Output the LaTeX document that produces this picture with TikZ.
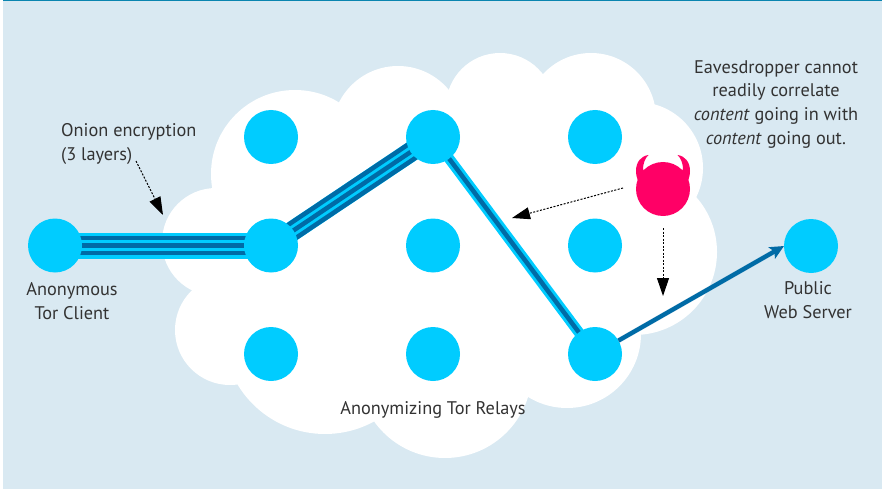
\documentclass[tikz,border=0pt]{standalone}
\usepackage{fontspec}
\setmainfont{PT Sans}
\usetikzlibrary{arrows.meta,calc}
\pgfdeclarelayer{bg}
\pgfdeclarelayer{edges}
\pgfsetlayers{bg,edges,main}
\definecolor{panel}{HTML}{D9E9F2}
\definecolor{rule}{HTML}{0A85B0}
\definecolor{cyanb}{HTML}{00CCFF}
\definecolor{darkb}{HTML}{006BA6}
\definecolor{devilc}{HTML}{FF0066}
\definecolor{txt}{HTML}{333333}
\tikzset{
  torn/.style={circle,fill=cyanb,minimum size=54pt,inner sep=0pt,outer sep=0pt},
  lbl/.style={text=txt,align=center,inner sep=0pt,font=\fontsize{18.3}{23.8}\selectfont},
  lightband/.style={draw=cyanb,line cap=butt},
  darkband/.style={draw=darkb,line width=4.5pt,line cap=butt},
  spy/.style={draw=black,line width=1pt,dash pattern=on 2pt off 1.5pt,-{Triangle[length=18pt,width=12pt,fill=black,sep=0pt]}},
  lobe/.style={fill=white}
}
\begin{document}
\begin{tikzpicture}[x=1pt,y=-1pt]
\useasboundingbox (0,0) rectangle (882,489);
\begin{pgfonlayer}{bg}
\fill[panel] (3,1) rectangle (882,489);
\fill[rule] (3,0) rectangle (882,1.4);
\foreach \cx/\cy/\r in {295/174/84,398/132/66,500/107/54,591/118/65,637/168/66,634/252/83,567/334/74,445/371/87,325/332/102,230/330/55,216/242/54}
  \fill[lobe] (\cx,\cy) circle[radius=\r];
\fill[lobe] (216,242) -- (295,174) -- (398,132) -- (500,107) -- (591,118) -- (637,168) -- (634,252) -- (567,334) -- (445,371) -- (325,332) -- (230,330) -- cycle;
\end{pgfonlayer}

\node[torn] (client) at (55,245.5) {};
\node[torn] (r11) at (271,137) {};
\node[torn] (r12) at (433,137) {};
\node[torn] (r13) at (595,137) {};
\node[torn] (r21) at (271,245.5) {};
\node[torn] (r22) at (433,245.5) {};
\node[torn] (r23) at (595,245.5) {};
\node[torn] (r31) at (271,354) {};
\node[torn] (r32) at (433,354) {};
\node[torn] (r33) at (595,354) {};
\node[torn] (server) at (811,246) {};

\begin{pgfonlayer}{edges}
\draw[lightband,line width=26pt] (client.center) -- (r21.center);
\draw[darkband] (client.center) -- (r21.center);
\draw[darkband] ($(client.center)!7.6pt!90:(r21.center)$) -- ($(r21.center)!7.6pt!-90:(client.center)$);
\draw[darkband] ($(client.center)!7.6pt!-90:(r21.center)$) -- ($(r21.center)!7.6pt!90:(client.center)$);
\draw[lightband,line width=20pt] (r21.center) -- (r12.center);
\draw[darkband] (r21.center) -- (r12.center);
\draw[darkband] ($(r21.center)!7.6pt!90:(r12.center)$) -- ($(r12.center)!7.6pt!-90:(r21.center)$);
\draw[darkband] ($(r21.center)!7.6pt!-90:(r12.center)$) -- ($(r12.center)!7.6pt!90:(r21.center)$);
\draw[lightband,line width=10.5pt] (r12.center) -- (r33.center);
\draw[darkband] (r12.center) -- (r33.center);
\end{pgfonlayer}
\draw[darkb,line width=4.5pt,-{Stealth[length=14pt,width=13pt,inset=3pt,sep=0pt]}] (r33) -- (server.west);

\node[circle,fill=devilc,minimum size=54pt,inner sep=0pt] (devil) at (663,189) {};
\fill[devilc] (648.5,155) .. controls (641,156) and (636,162) .. (636,171) .. controls (636,175) and (637,178) .. (638,181) -- (650,181) -- (643,169) .. controls (643,164) and (645,158) .. (648.5,155) -- cycle;
\fill[devilc] (677.5,155) .. controls (685,156) and (690,162) .. (690,171) .. controls (690,175) and (689,178) .. (688,181) -- (676,181) -- (683,169) .. controls (683,164) and (681,158) .. (677.5,155) -- cycle;

\coordinate (spyA) at (623,188);
\coordinate (spyAtip) at (512,218);
\coordinate (spyB) at (663,228);
\coordinate (spyBtip) at (663,296);
\coordinate (onionA) at (136,161);
\coordinate (onionTip) at (163,215);
\draw[spy] (spyA) -- (spyAtip);
\draw[spy] (spyB) -- (spyBtip);
\draw[spy] (onionA) -- (onionTip);

\node[lbl,align=left,anchor=north west] (onion) at (61,123.5) {Onion encryption\\(3 layers)};
\node[lbl,anchor=north] (clientl) at (72,282.5) {Anonymous\\Tor Client};
\node[lbl,anchor=north] (serverl) at (808,281.5) {Public\\Web Server};
\node[lbl,anchor=north] (relayl) at (433,401.5) {Anonymizing Tor Relays};
\node[lbl,anchor=north] (eaves) at (776,60) {Eavesdropper cannot\\readily correlate\\\textit{content} going in with\\\textit{content} going out.};
\end{tikzpicture}
\end{document}
